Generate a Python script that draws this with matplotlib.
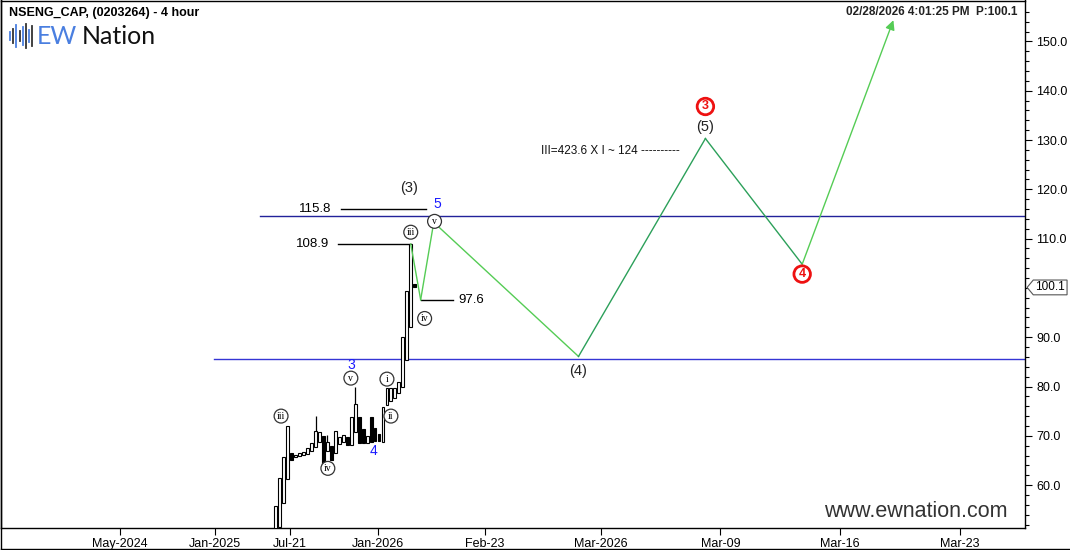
import numpy as np
import matplotlib
matplotlib.use("Agg")
import matplotlib.pyplot as plt
from matplotlib.lines import Line2D
from matplotlib.patches import Polygon
from matplotlib import transforms

plt.rcParams['font.family'] = ['Liberation Sans', 'DejaVu Sans']

# --- data: 4 hour candles ---
opens = [50.9, 51.5, 56.3, 61.2, 66.5, 65.7, 65.9, 66.1, 66.3, 66.9,
         67.7, 68.7, 69.9, 66.9, 67.9, 66.5, 68.3, 68.7, 69.7, 68.1,
         70.7, 73.8, 71.3, 68.5, 73.8, 71.5, 70.3, 68.7, 76.2, 77.0,
         77.6, 78.6, 79.9, 85.3, 92.0, 100.8]
closes = [55.7, 61.4, 65.7, 72.0, 65.1, 66.1, 66.5, 66.7, 67.5, 68.5,
          70.9, 70.7, 63.8, 68.7, 65.1, 70.9, 69.7, 70.1, 68.1, 73.8,
          76.4, 68.5, 68.5, 69.9, 68.7, 68.9, 68.9, 75.8, 79.7, 79.7,
          79.7, 80.9, 90.0, 99.3, 108.9, 100.1]
wick_highs = {10: 74.0, 13: 70.1, 20: 80.0}
wick_lows = {0: 48.0}

# projected wave path (bar index, price)
wave_x = [34.0, 36.5, 39.8, 76.3, 108.3, 132.7, 155.7]
wave_y = [108.9, 97.6, 113.3, 86.1, 130.3, 104.8, 154.3]
wave_colors = ['#55cc55', '#55cc55', '#55cc55', '#2ca05a', '#2ca05a', '#55cc55']

# horizontal levels
level_hi = 114.5
level_lo = 85.5

# x axis labels
tick_pos = [-39.3, -15.4, 3.5, 25.7, 52.6, 81.9, 112.1, 142.3, 172.5]
tick_labels = ['May-2024', 'Jan-2025', 'Jul-21', 'Jan-2026', 'Feb-23',
               'Mar-2026', 'Mar-09', 'Mar-16', 'Mar-23']

last_price = 100.1

# --- figure ---
W, H = 1070, 550
fig = plt.figure(figsize=(W / 100, H / 100), dpi=100)
ax = fig.add_axes([0.001, 22 / H, 1024 / W, 527.5 / H])
ax.set_xlim(-69.3, 188.9)
ax.set_ylim(51.3, 158.3)

# candles
n = len(opens)
xs = np.arange(n)
for i in range(n):
    o, c = opens[i], closes[i]
    hi = wick_highs.get(i, max(o, c))
    lo = wick_lows.get(i, min(o, c))
    if hi > max(o, c) or lo < min(o, c):
        ax.vlines(xs[i], lo, hi, color='black', lw=0.9, zorder=2)
    face = 'white' if c >= o else 'black'
    ax.bar(xs[i], abs(c - o) if abs(c - o) > 0.3 else 0.3, bottom=min(o, c), width=0.72,
           facecolor=face, edgecolor='black', lw=0.8, zorder=3)

# levels
ax.plot([-4.0, 189], [level_hi, level_hi], color='#22229a', lw=1.0, zorder=1)
ax.plot([-15.6, 189], [level_lo, level_lo], color='#3535d5', lw=1.0, zorder=1)

# wave path
for k in range(len(wave_x) - 2):
    ax.plot(wave_x[k:k + 2], wave_y[k:k + 2], color=wave_colors[k], lw=1.0, zorder=4)
ax.annotate('', xy=(wave_x[-1], wave_y[-1]), xytext=(wave_x[-2], wave_y[-2]),
            arrowprops=dict(arrowstyle='-|>', color=wave_colors[-1], lw=1.0,
                            mutation_scale=14, shrinkA=0, shrinkB=0),
            annotation_clip=False, zorder=4)

# price annotations
ax.plot([16.4, 37.8], [116.1, 116.1], color='black', lw=1.0)
ax.text(14.1, 116.1, '115.8', ha='right', va='center', fontsize=9.5)
ax.plot([15.6, 34.0], [108.9, 108.9], color='black', lw=1.0)
ax.text(13.4, 108.9, '108.9', ha='right', va='center', fontsize=9.5)
ax.plot([36.5, 44.6], [97.6, 97.6], color='black', lw=1.0)
ax.text(46.1, 97.6, '97.6', ha='left', va='center', fontsize=9.5)

# wave labels
ax.text(33.5, 120.2, '(3)', ha='center', va='center', fontsize=10.5, color='#222222')
ax.text(40.6, 117.0, '5', ha='center', va='center', fontsize=10, color='#1a1aff')
ax.text(18.9, 84.3, '3', ha='center', va='center', fontsize=10, color='#1a1aff')
ax.text(24.7, 66.9, '4', ha='center', va='center', fontsize=10, color='#1a1aff')
ax.text(76.3, 83.1, '(4)', ha='center', va='center', fontsize=10.5, color='#222222')
ax.text(108.3, 132.6, '(5)', ha='center', va='center', fontsize=10.5, color='#222222')
ax.text(84.4, 127.7, 'III=423.6 X I ~ 124 ----------', ha='center', va='center',
        fontsize=8.5, color='#111111')

circ = dict(boxstyle='circle,pad=0.25', fc='white', ec='#333333', lw=0.9)
small_labels = [
    (40.0, 113.5, 'v'), (34.0, 111.3, 'iii'), (37.5, 93.8, 'iv'),
    (18.9, 81.7, 'v'), (28.0, 81.5, 'i'), (29.0, 74.0, 'ii'),
    (1.3, 74.0, 'iii'), (13.1, 63.4, 'iv'),
]
for lx, ly, lt in small_labels:
    ax.text(lx, ly, lt, ha='center', va='center', fontsize=7,
            family=['Liberation Serif', 'DejaVu Serif'], bbox=circ, zorder=6)

red_circ = dict(boxstyle='circle,pad=0.18', fc='white', ec='#ee1111', lw=2.0)
ax.text(108.3, 136.8, '3', ha='center', va='center', fontsize=9, fontweight='bold',
        color='#ee1111', bbox=red_circ, zorder=6)
ax.text(132.7, 102.8, '4', ha='center', va='center', fontsize=9, fontweight='bold',
        color='#ee1111', bbox=red_circ, zorder=6)

ax.text(0.983, 0.012, 'www.ewnation.com', transform=ax.transAxes, ha='right',
        va='bottom', fontsize=15.5, color='#333333')

# axes styling (the 100.0 label sits under the last-price tag)
yt = np.arange(60, 151, 10)
ax.yaxis.tick_right()
ax.set_yticks(yt)
ax.set_yticklabels(['' if v == 100 else f'{v:.1f}' for v in yt])
ax.set_yticks(np.arange(52, 158, 2), minor=True)
ax.tick_params(axis='y', which='major', direction='out', length=5, width=0.8,
               labelsize=9, pad=3)
ax.tick_params(axis='y', which='minor', direction='out', length=3, width=0.8)
ax.set_xticks(tick_pos)
ax.set_xticklabels(tick_labels)
ax.tick_params(axis='x', direction='out', length=5, width=0.8, labelsize=9, pad=2)
for s in ax.spines.values():
    s.set_linewidth(1.0)

# last price tag
tr = transforms.blended_transform_factory(ax.transAxes, ax.transData)
x0 = 1.002
tag = Polygon([(x0, last_price), (x0 + 0.006, last_price + 1.5),
               (x0 + 0.039, last_price + 1.5), (x0 + 0.039, last_price - 1.5),
               (x0 + 0.006, last_price - 1.5)], closed=True, fc='white',
              ec='#555555', lw=0.8, transform=tr, clip_on=False, zorder=7)
ax.add_patch(tag)
ax.text(x0 + 0.0225, last_price, f'{last_price:.1f}', transform=tr, ha='center',
        va='center', fontsize=8.5, zorder=8, clip_on=False)

# bottom frame
fig.add_artist(Line2D([0.001, 0.999], [0.001, 0.001], color='black', lw=1.0))
fig.add_artist(Line2D([0.001, 0.001], [0.0, 1.0], color='black', lw=1.0))

# header texts
fig.text(9 / W, 1 - 13 / H, 'NSENG_CAP, (0203264) - 4 hour', ha='left', va='center',
         fontsize=9, fontweight='bold')
fig.text(1017 / W, 1 - 12 / H, '02/28/2026 4:01:25 PM  P:100.1', ha='right',
         va='center', fontsize=8.5, fontweight='bold', color='#222222')

# logo
bar_h = [8, 14, 22, 10, 18, 24, 12, 20]
bar_c = ['#4a7fe0', '#333333', '#4a7fe0', '#333333', '#4a7fe0', '#333333', '#4a7fe0', '#333333']
for j, (bh, bc) in enumerate(zip(bar_h, bar_c)):
    bx = (10 + j * 3.2) / W
    fig.add_artist(Line2D([bx, bx], [1 - (36 - bh / 2) / H, 1 - (36 + bh / 2) / H],
                          color=bc, lw=1.3))
fig.text(37 / W, 1 - 36 / H, 'EW', ha='left', va='center', fontsize=18,
         color='#4a7fe0', family=['Lato', 'DejaVu Sans'])
fig.text(82 / W, 1 - 36 / H, 'Nation', ha='left', va='center', fontsize=18,
         color='#111111', family=['Lato', 'DejaVu Sans'])

fig.savefig('out.png', dpi=100, facecolor='white')
